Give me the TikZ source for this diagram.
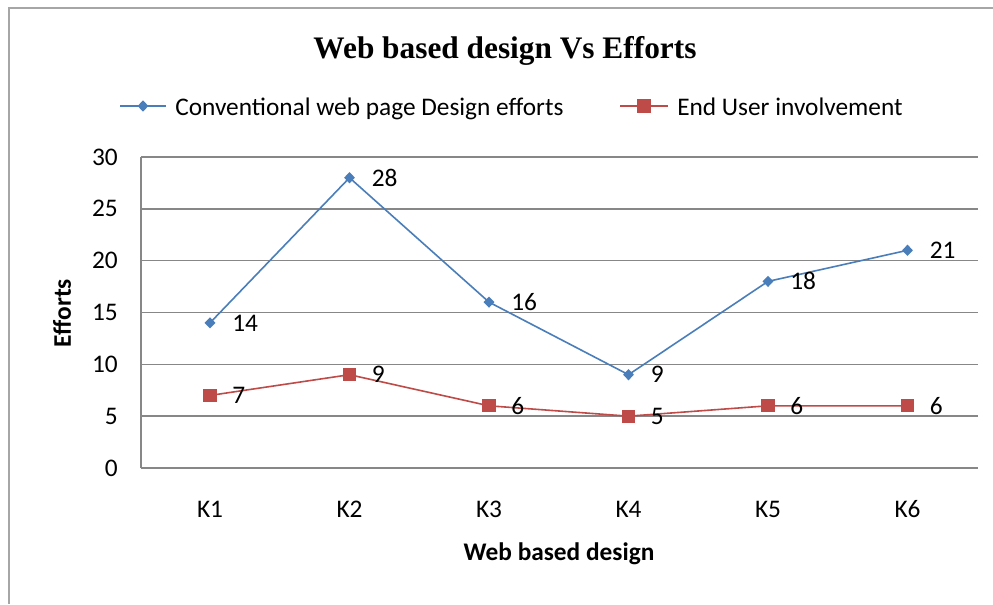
\documentclass[tikz,border=0pt]{standalone}
\usepackage{fontspec}
\setmainfont{Carlito}
\newfontfamily\titlefont{Liberation Serif}
\usetikzlibrary{shapes.geometric}

\definecolor{gridgray}{HTML}{878787}
\definecolor{framegray}{HTML}{A6A6A6}
\definecolor{seriesblue}{HTML}{4A7EBB}
\definecolor{seriesred}{HTML}{BE4B48}

\tikzset{
  gridline/.style={draw=gridgray, line width=1.1pt},
  frameline/.style={draw=framegray, line width=1.1pt},
  blueline/.style={draw=seriesblue, line width=1.2pt},
  redline/.style={draw=seriesred, line width=1.2pt},
  bluemark/.style={diamond, fill=seriesblue, inner sep=0pt, minimum width=8.3pt, minimum height=8.6pt},
  redmark/.style={rectangle, fill=seriesred, inner sep=0pt, minimum size=10pt},
  lbl/.style={inner sep=0pt, font=\fontsize{19}{22}\selectfont, text=black},
  vallbl/.style={lbl, anchor=west, xshift=16.5pt},
  axtitle/.style={inner sep=0pt, font=\fontsize{19}{22}\selectfont\bfseries}
}

\begin{document}
\begin{tikzpicture}[x=0.75pt, y=-0.75pt]
\useasboundingbox (0,0) rectangle (993,604);
\fill[white] (0,0) rectangle (993,604);

% chart frame
\draw[frameline] (9,604) -- (9,8) -- (993,8);

% title
\node[inner sep=0pt, anchor=base, font=\titlefont\fontsize{23.5}{26}\selectfont\bfseries] (title) at (505,58) {Web based design Vs Efforts};

% legend
\coordinate (lgb1) at (120,106);
\coordinate (lgb2) at (166,106);
\draw[blueline] (lgb1) -- (lgb2);
\node[bluemark] (lgbm) at (143,106) {};
\node[lbl, anchor=base west] (lgbt) at (175,115) {Conventional web page Design efforts};
\coordinate (lgr1) at (620,106);
\coordinate (lgr2) at (668,106);
\draw[redline] (lgr1) -- (lgr2);
\node[redmark] (lgrm) at (644,106) {};
\node[lbl, anchor=base west] (lgrt) at (677,115) {End User involvement};

% horizontal grid and value axis labels
\foreach \v in {0,5,...,30} {
  \draw[gridline] (141,{468-10.367*\v}) -- (978,{468-10.367*\v});
  \node[lbl, anchor=east] (y\v) at (118,{468-10.367*\v}) {\v};
}
\draw[gridline] (141,157) -- (141,468);

% axis titles
\node[axtitle, rotate=90] (ytitle) at (62,313) {Efforts};
\node[axtitle, anchor=base] (xtitle) at (559,560) {Web based design};

% data points and category labels
\foreach \i/\b/\r in {1/14/7, 2/28/9, 3/16/6, 4/9/5, 5/18/6, 6/21/6} {
  \pgfmathsetmacro\xx{210+139.5*(\i-1)}
  \coordinate (pb\i) at (\xx,{468-10.367*\b});
  \coordinate (pr\i) at (\xx,{468-10.367*\r});
  \node[lbl] (k\i) at (\xx,509) {K\i};
}

% series lines
\draw[blueline, line join=round] (pb1) -- (pb2) -- (pb3) -- (pb4) -- (pb5) -- (pb6);
\draw[redline, line join=round] (pr1) -- (pr2) -- (pr3) -- (pr4) -- (pr5) -- (pr6);

% markers and value labels
\foreach \i/\b/\r in {1/14/7, 2/28/9, 3/16/6, 4/9/5, 5/18/6, 6/21/6} {
  \node[bluemark] (mb\i) at (pb\i) {};
  \node[redmark] (mr\i) at (pr\i) {};
  \node[vallbl] (vb\i) at (pb\i) {\b};
  \node[vallbl] (vr\i) at (pr\i) {\r};
}
\end{tikzpicture}
\end{document}
